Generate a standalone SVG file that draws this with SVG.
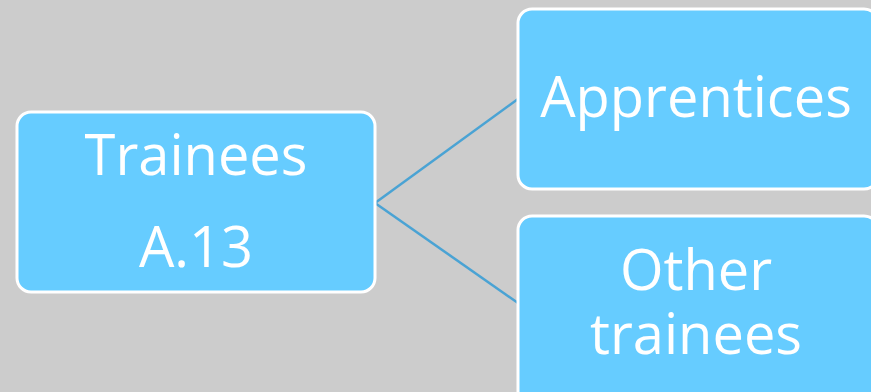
<svg xmlns="http://www.w3.org/2000/svg" width="871" height="392" viewBox="0 0 871 392">
<style>
.node rect{fill:#66ccff;stroke:#ffffff;stroke-width:3}
.node text{fill:#ffffff;font-family:"Open Sans","Noto Sans",sans-serif;font-size:56px;text-anchor:middle}
.conn line{stroke:#4aa3d4;stroke-width:2.5;fill:none}
</style>
<rect x="0" y="0" width="871" height="392" fill="#cccccc"/>
<g id="connectors" class="conn">
<line x1="375" y1="203" x2="518" y2="99"/>
<line x1="375" y1="203" x2="518" y2="303"/>
</g>
<g id="node-trainees" class="node">
<rect x="17" y="112" width="358" height="180" rx="14"/>
<text x="196" y="175">Trainees</text>
<text x="196" y="267">A.13</text>
</g>
<g id="node-apprentices" class="node">
<rect x="518" y="9" width="360" height="180" rx="14"/>
<text x="696" y="117">Apprentices</text>
</g>
<g id="node-other" class="node">
<rect x="518" y="216" width="360" height="190" rx="14"/>
<text x="696" y="290" font-size="54">Other</text>
<text x="696" y="354" font-size="54">trainees</text>
</g>
</svg>
